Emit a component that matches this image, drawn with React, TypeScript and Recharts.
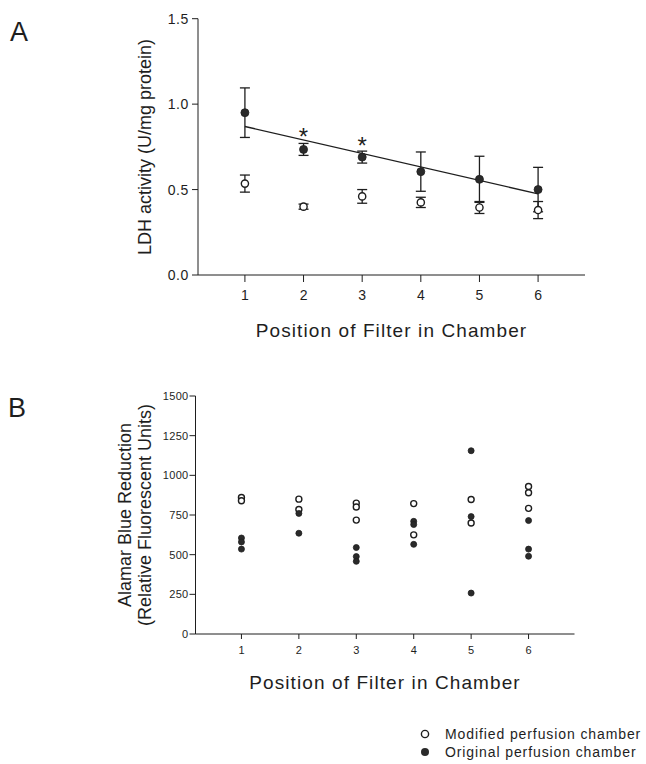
import React from 'react'
import { ComposedChart, Scatter, XAxis, YAxis, ErrorBar } from 'recharts'

const INK = '#1e1e1e'
const FONT = '"Liberation Sans", Arial, Helvetica, sans-serif'

const positions = [1, 2, 3, 4, 5, 6]
const seriesNames = ['Modified perfusion chamber', 'Original perfusion chamber']

// panel A: LDH activity, mean +/- error
const ldhModified = [0.535, 0.4, 0.46, 0.425, 0.395, 0.38]
const ldhModifiedErr = [0.05, 0.015, 0.04, 0.03, 0.035, 0.05]
const ldhOriginal = [0.95, 0.735, 0.69, 0.605, 0.56, 0.5]
const ldhOriginalErr = [0.145, 0.035, 0.035, 0.115, 0.135, 0.13]
const fitPositions = [1, 6]
const fitValues = [0.869, 0.475]
const starPositions = [2, 3]
const starValues = [0.84, 0.79]
const ldhTicks = [0, 0.5, 1, 1.5]

// panel B: individual filters
const alamarModified = [
  [860, 840],
  [850, 785],
  [825, 800, 718],
  [822, 625],
  [848, 700],
  [930, 890, 792],
]
const alamarOriginal = [
  [605, 580, 535],
  [760, 635],
  [545, 488, 458],
  [710, 690, 565],
  [1155, 740, 258],
  [715, 535, 490],
]
const alamarTicks = [0, 250, 500, 750, 1000, 1250, 1500]

const ldhModData = positions.map((p, i) => ({ pos: p, value: ldhModified[i], err: ldhModifiedErr[i] }))
const ldhOrigData = positions.map((p, i) => ({ pos: p, value: ldhOriginal[i], err: ldhOriginalErr[i] }))
const fitData = fitPositions.map((p, i) => ({ pos: p, value: fitValues[i] }))
const starData = starPositions.map((p, i) => ({ pos: p, value: starValues[i] }))
const flatten = (groups: number[][]) =>
  groups.flatMap((vals, i) => vals.map((v) => ({ pos: positions[i], value: v })))
const alamarModData = flatten(alamarModified)
const alamarOrigData = flatten(alamarOriginal)

const openDot = (r: number) => (props: any) =>
  <circle cx={props.cx} cy={props.cy} r={r} fill="#fff" stroke={INK} strokeWidth={1.4} />
const filledDot = (r: number) => (props: any) =>
  <circle cx={props.cx} cy={props.cy} r={r} fill="#2a2a2a" stroke={INK} strokeWidth={0.8} />
const noDot = () => <g />
// asterisk glyph sits high in the em box, push baseline down so it centres on the value
const star = (props: any) => (
  <text x={props.cx} y={props.cy} dy={14} textAnchor="middle" fontSize={24} fill={INK} fontFamily={FONT}>
    *
  </text>
)

const xTitle = (dy: number) => (props: any) => {
  const vb = props.viewBox
  return (
    <text
      x={vb.x + vb.width / 2}
      y={vb.y + dy}
      textAnchor="middle"
      fontSize={19}
      letterSpacing={1.1}
      fill={INK}
      fontFamily={FONT}
    >
      Position of Filter in Chamber
    </text>
  )
}

const yTitle = (lines: string[], xs: number[], cy: number) => () => (
  <g>
    {lines.map((t, i) => (
      <text
        key={t}
        x={xs[i]}
        y={cy}
        transform={`rotate(-90 ${xs[i]} ${cy})`}
        textAnchor="middle"
        dominantBaseline="central"
        fontSize={18}
        fill={INK}
        fontFamily={FONT}
      >
        {t}
      </text>
    ))}
  </g>
)

function PanelA() {
  return (
    <ComposedChart width={646} height={360} margin={{ top: 18.7, right: 61, bottom: 55, left: 138 }}>
      <XAxis
        type="number"
        dataKey="pos"
        domain={[0.2, 6.8]}
        ticks={positions}
        allowDataOverflow
        stroke={INK}
        tickSize={7}
        tickMargin={8}
        tick={{ fontSize: 14, fill: INK, fontFamily: FONT }}
        label={{ content: xTitle(62) }}
      />
      <YAxis
        type="number"
        dataKey="value"
        domain={[0, 1.5]}
        ticks={ldhTicks}
        tickFormatter={(v: number) => v.toFixed(1)}
        stroke={INK}
        tickSize={6}
        tickMargin={3}
        tick={{ fontSize: 14, fill: INK, fontFamily: FONT, letterSpacing: 0.6 }}
        label={{ content: yTitle(['LDH activity (U/mg protein)'], [145], 147) }}
      />
      <Scatter name="fit" data={fitData} shape={noDot} line={{ stroke: INK, strokeWidth: 1.4 }} isAnimationActive={false} />
      <Scatter name={seriesNames[0]} data={ldhModData} shape={openDot(3.6)} isAnimationActive={false}>
        <ErrorBar dataKey="err" direction="y" width={5} stroke={INK} strokeWidth={1.3} />
      </Scatter>
      <Scatter name={seriesNames[1]} data={ldhOrigData} shape={filledDot(4)} isAnimationActive={false}>
        <ErrorBar dataKey="err" direction="y" width={5} stroke={INK} strokeWidth={1.3} />
      </Scatter>
      <Scatter name="significant" data={starData} shape={star} isAnimationActive={false} />
    </ComposedChart>
  )
}

function PanelB() {
  return (
    <ComposedChart width={646} height={330} margin={{ top: 26, right: 71.5, bottom: 36, left: 135.5 }}>
      <XAxis
        type="number"
        dataKey="pos"
        domain={[0.2, 6.8]}
        ticks={positions}
        allowDataOverflow
        stroke={INK}
        tickSize={5}
        tickMargin={7}
        tick={{ fontSize: 11, fill: INK, fontFamily: FONT }}
        label={{ content: xTitle(55) }}
      />
      <YAxis
        type="number"
        dataKey="value"
        domain={[0, 1500]}
        ticks={alamarTicks}
        stroke={INK}
        tickSize={6}
        tickMargin={1}
        tick={{ fontSize: 11, fill: INK, fontFamily: FONT, letterSpacing: 0.3 }}
        label={{
          content: yTitle(['Alamar Blue Reduction', '(Relative Fluorescent Units)'], [125, 145], 145),
        }}
      />
      <Scatter name={seriesNames[0]} data={alamarModData} shape={openDot(3)} isAnimationActive={false} />
      <Scatter name={seriesNames[1]} data={alamarOrigData} shape={filledDot(3)} isAnimationActive={false} />
    </ComposedChart>
  )
}

export default function App() {
  return (
    <div
      style={{
        position: 'absolute',
        left: 0,
        top: 0,
        width: 646,
        height: 764,
        background: '#fff',
        fontFamily: FONT,
        color: INK,
        overflow: 'hidden',
      }}
    >
      <div style={{ position: 'absolute', left: 0, top: 0 }}>
        <PanelA />
      </div>
      <div style={{ position: 'absolute', left: 0, top: 370 }}>
        <PanelB />
      </div>
      <div style={{ position: 'absolute', left: 10, top: 19, fontSize: 27, lineHeight: 1 }}>A</div>
      <div style={{ position: 'absolute', left: 8, top: 395, fontSize: 27, lineHeight: 1 }}>B</div>
      {seriesNames.map((name, i) => (
        <div
          key={name}
          style={{
            position: 'absolute',
            left: 419,
            top: 725 + i * 18,
            height: 18,
            display: 'flex',
            alignItems: 'center',
            fontSize: 14,
            letterSpacing: 0.9,
            whiteSpace: 'nowrap',
          }}
        >
          <svg width={14} height={14} style={{ marginRight: 12 }}>
            {i === 0 ? (
              <circle cx={6} cy={7} r={3.6} fill="#fff" stroke={INK} strokeWidth={1.4} />
            ) : (
              <circle cx={6} cy={7} r={4} fill="#2a2a2a" />
            )}
          </svg>
          {name}
        </div>
      ))}
    </div>
  )
}
